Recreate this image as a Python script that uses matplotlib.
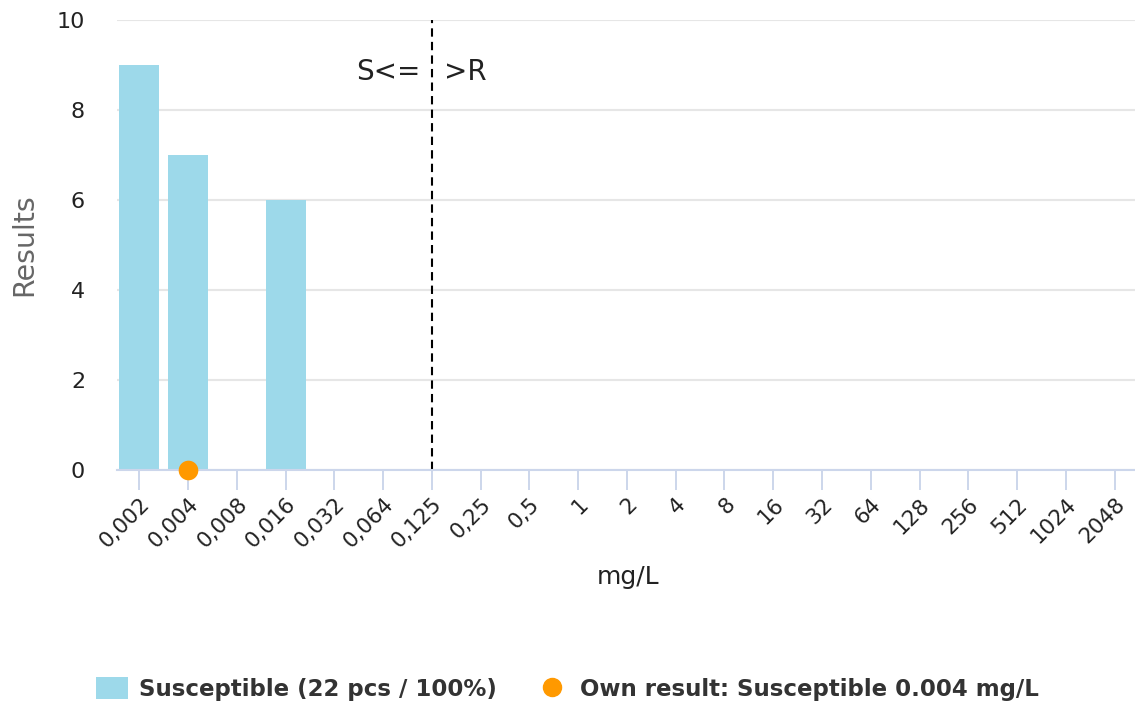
import matplotlib

matplotlib.use("Agg")

import matplotlib.pyplot as plt
from matplotlib.lines import Line2D
from matplotlib.patches import Patch

plt.rcParams["font.family"] = ["DejaVu Sans"]

categories = ["0,002", "0,004", "0,008", "0,016", "0,032", "0,064", "0,125", "0,25", "0,5",
              "1", "2", "4", "8", "16", "32", "64", "128", "256", "512", "1024", "2048"]
susceptible = [9, 7, 0, 6, 0, 0, 0, 0, 0, 0, 0, 0, 0, 0, 0, 0, 0, 0, 0, 0, 0]
own_result_cat = "0,004"
own_result_val = 0
breakpoint_cat = "0,125"
y_ticks = [0, 2, 4, 6, 8, 10]

BAR_COLOR = "#9dd9ea"
DOT_COLOR = "#ff9900"
GRID_COLOR = "#e6e6e6"
AXIS_COLOR = "#ccd6eb"
TEXT_COLOR = "#333333"

fig = plt.figure(figsize=(11.35, 7.13), dpi=100)
ax = fig.add_axes([117 / 1135, 1 - 470 / 713, 1 - 117 / 1135, 450 / 713])

x = list(range(len(categories)))
ax.bar(x, susceptible, width=0.82, color=BAR_COLOR, zorder=2)
ax.scatter([categories.index(own_result_cat)], [own_result_val], s=200, color=DOT_COLOR,
           zorder=5, clip_on=False, linewidths=0)

bp = categories.index(breakpoint_cat)
ax.axvline(bp, color="black", linewidth=1.5, linestyle=(0, (4, 2.5)), zorder=3)
ax.text(bp - 0.23, 8.84, "S<=", ha="right", va="center", fontsize=20, color="#222222")
ax.text(bp + 0.25, 8.84, ">R", ha="left", va="center", fontsize=20, color="#222222")

ax.set_xlim(-0.46, 20.42)
ax.set_ylim(0, 10)
ax.set_yticks(y_ticks)
ax.set_yticklabels([str(v) for v in y_ticks])
ax.set_xticks(x)
ax.set_xticklabels(categories, rotation=45, ha="right", rotation_mode="anchor")
ax.tick_params(axis="y", length=0, pad=23, labelsize=16, labelcolor="#222222")
ax.tick_params(axis="x", length=14.4, width=1.4, color=AXIS_COLOR, pad=3, labelsize=15.5,
               labelcolor="#222222")

ax.grid(axis="y", color=GRID_COLOR, linewidth=1.5, zorder=0)
ax.set_axisbelow(True)
for side in ["top", "right", "left"]:
    ax.spines[side].set_visible(False)
ax.spines["bottom"].set_color(AXIS_COLOR)
ax.spines["bottom"].set_linewidth(1.5)
ax.spines["bottom"].set_zorder(4)

fig.text(24 / 1135, 1 - 245 / 713, "Results", rotation=90, ha="center", va="center",
         fontsize=20.5, color="#666666")
fig.text(628 / 1135, 1 - 577 / 713, "mg/L", ha="center", va="center", fontsize=18,
         color="#222222")

handles = [
    Patch(facecolor=BAR_COLOR, edgecolor="none"),
    Line2D([], [], linestyle="none", marker="o", markersize=13, color=DOT_COLOR),
]
labels = ["Susceptible (22 pcs / 100%)", "Own result: Susceptible 0.004 mg/L"]
fig.legend(handles, labels, loc="center", bbox_to_anchor=(567 / 1135, 1 - 689 / 713), ncol=2,
           frameon=False, prop={"size": 16.5, "weight": "bold"}, labelcolor=TEXT_COLOR,
           handlelength=1.4, handleheight=1.05, handletextpad=0.5, columnspacing=1.7,
           borderpad=0, borderaxespad=0)

fig.savefig("out.png", dpi=100)
